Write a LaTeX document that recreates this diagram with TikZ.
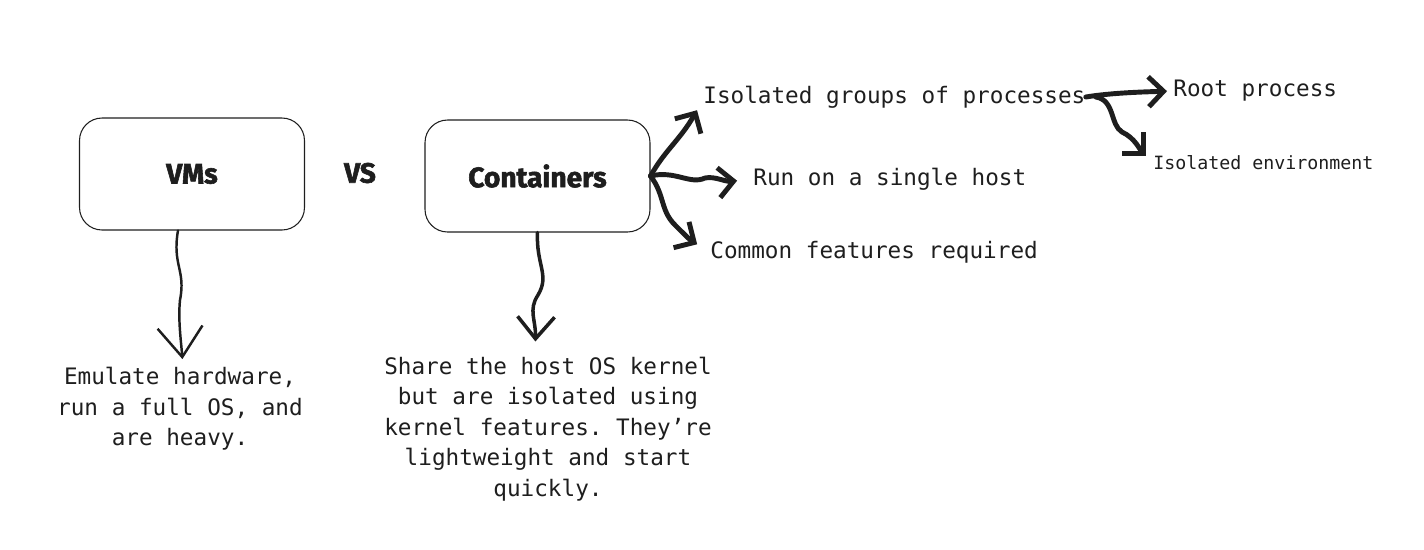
\documentclass[tikz,border=0pt]{standalone}
\usepackage{fontspec}
\setmonofont{DejaVu Sans Mono}
\newfontfamily\headfont{Fira Sans}[BoldFeatures={FakeBold=2}]
\usetikzlibrary{positioning,arrows.meta}
\definecolor{ink}{HTML}{1E1E1E}

\begin{document}
\begin{tikzpicture}[x=0.02cm,y=-0.02cm,color=ink]
	% styles
	\tikzstyle{box} = [draw=ink, rounded corners=0.45cm, line width=0.6pt, minimum width=4.5cm, minimum height=2.24cm]
	\tikzstyle{head} = [font=\headfont\bfseries\fontsize{16}{19}\selectfont]
	\tikzstyle{note} = [font=\ttfamily\fontsize{12.9}{17.4}\selectfont, inner sep=0pt, align=center]
	\tikzstyle{small} = [font=\ttfamily\fontsize{10.4}{12.5}\selectfont, inner sep=0pt]
	\tikzstyle{thinlink} = [line width=1.4pt, line cap=round, -{Straight Barb[length=0.6cm,width=0.9cm]}]
	\tikzstyle{midlink} = [line width=2pt, line cap=round, -{Straight Barb[length=0.44cm,width=0.74cm]}]
	\tikzstyle{link} = [line width=2.8pt, line cap=round, -{Straight Barb[length=0.3cm,width=0.6cm]}]
	\useasboundingbox (0,0) rectangle (1424,549);

	\node (vms) [box,head] at (192,174) {VMs};
	\node (vs) [head] at (360,173) {VS};
	\node (ctr) [box,head] at (537.5,176) {Containers};

	\node (iso) [note,anchor=west] at (703,97) {Isolated groups of processes};
	\node (root) [note,anchor=west] at (1173,91) {Root process};
	\node (env) [small,anchor=west] at (1153,163) {Isolated environment};
	\node (host) [note,anchor=west] at (753,179) {Run on a single host};
	\node (common) [note,anchor=west] at (710,252) {Common features required};

	\node (vmsdesc) [note] at (180,409) {Emulate hardware,\\run a full OS, and\\are heavy.};
	\node (ctrdesc) [note] at (548,429) {Share the host OS kernel\\but are isolated using\\kernel features. They’re\\lightweight and start\\quickly.};

	% connectors
	\draw [thinlink,shorten >=0.16cm] ([xshift=-0.28cm]vms.south) .. controls (172,265) and (186,270) .. (180,300) .. controls (178,320) and (181,340) .. ([xshift=0.06cm]vmsdesc.north);
	\draw [midlink,shorten >=0.3cm] (ctr.south) .. controls (536,265) and (550,275) .. (538,295) .. controls (528,310) and (536,320) .. ([xshift=-0.26cm]ctrdesc.north);
	\draw [link,shorten >=0.04cm] (ctr.east) .. controls (665,150) and (680,140) .. ([xshift=-0.1cm]iso.south west);
	\draw [link,shorten >=0.32cm] (ctr.east) .. controls (675,170) and (690,185) .. (705,178) .. controls (715,176) and (725,182) .. (host.west);
	\draw [link,shorten >=0.3cm] (ctr.east) .. controls (665,195) and (660,210) .. (675,225) .. controls (683,233) and (690,240) .. (common.west);
	\draw [link,shorten >=0.12cm] (iso.east) .. controls (1110,93) and (1140,92) .. (root.west);
	\draw [link,shorten >=0.2cm] ([xshift=0.2cm]iso.east) .. controls (1115,100) and (1110,125) .. (1122,132) .. controls (1135,138) and (1140,150) .. (env.west);
\end{tikzpicture}
\end{document}
